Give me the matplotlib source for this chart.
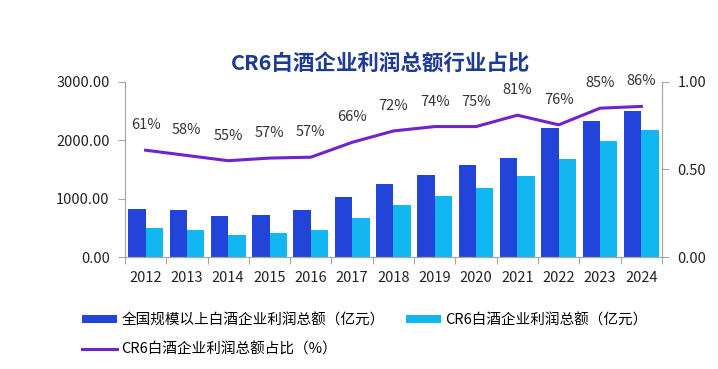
import numpy as np
import matplotlib.pyplot as plt
from matplotlib.ticker import FormatStrFormatter, FixedLocator, NullFormatter

plt.rcParams['font.family'] = ['Noto Sans CJK SC', 'DejaVu Sans']

# data
years = ['2012', '2013', '2014', '2015', '2016', '2017', '2018',
         '2019', '2020', '2021', '2022', '2023', '2024']
total_profit = [818, 804, 699, 727, 797, 1028, 1250, 1404, 1585, 1702, 2202, 2329, 2509]
cr6_profit = [495, 463, 380, 415, 455, 675, 895, 1050, 1190, 1380, 1675, 1980, 2170]
cr6_share = [0.61, 0.58, 0.55, 0.565, 0.57, 0.655, 0.72, 0.745, 0.745, 0.81, 0.755, 0.85, 0.86]
share_labels = ['61%', '58%', '55%', '57%', '57%', '66%', '72%',
                '74%', '75%', '81%', '76%', '85%', '86%']

c_dark = '#2344d8'
c_light = '#12b6f0'
c_line = '#7022cc'
c_spine = '#a6a6a6'

fig = plt.figure(figsize=(7.18, 3.69), dpi=100)
ax = fig.add_axes([0.174, 0.3035, 0.748, 0.4745])
ax2 = ax.twinx()

x = np.arange(len(years))
w = 0.42
b1 = ax.bar(x - w / 2, total_profit, w, color=c_dark, label='全国规模以上白酒企业利润总额（亿元）')
b2 = ax.bar(x + w / 2, cr6_profit, w, color=c_light, label='CR6白酒企业利润总额（亿元）')
ln, = ax2.plot(x, cr6_share, color=c_line, lw=2.2, label='CR6白酒企业利润总额占比（%）')

for xi, yi, s in zip(x, cr6_share, share_labels):
    ax2.annotate(s, (xi, yi), xytext=(0, 25), textcoords='offset pixels',
                 ha='center', va='center', fontsize=10.5, color='#333333')

ax.set_xlim(-0.5, len(years) - 0.5)
ax.set_ylim(0, 3000)
ax2.set_ylim(0, 1.0)
ax.set_yticks([0, 1000, 2000, 3000])
ax2.set_yticks([0, 0.5, 1.0])
ax.yaxis.set_major_formatter(FormatStrFormatter('%.2f'))
ax2.yaxis.set_major_formatter(FormatStrFormatter('%.2f'))

# year labels centred, tick marks at group boundaries
ax.xaxis.set_major_locator(FixedLocator(np.arange(-0.5, len(years), 1.0)))
ax.xaxis.set_major_formatter(NullFormatter())
ax.xaxis.set_minor_locator(FixedLocator(x))
ax.set_xticklabels(years, minor=True)
ax.tick_params(axis='x', which='major', length=5, color=c_spine, direction='out')
ax.tick_params(axis='x', which='minor', length=0, labelsize=10.5, pad=10, labelcolor='#222222')

for a in (ax, ax2):
    a.spines['top'].set_visible(False)
    for s in ('left', 'right', 'bottom'):
        a.spines[s].set_color(c_spine)
    a.tick_params(axis='y', length=5, color=c_spine, labelsize=10.5, labelcolor='#222222', pad=6)

fig.text(0.53, 0.83, 'CR6白酒企业利润总额行业占比', ha='center', va='center',
         fontsize=15.5, fontweight='bold', color='#1d3a94')

# column-major fill: b1/ln in first column, b2 in second
fig.legend(handles=[b1, ln, b2], loc='upper left', bbox_to_anchor=(0.114, 0.152),
           ncol=2, frameon=False, fontsize=10.5, handlelength=2.4, handleheight=0.5,
           handletextpad=0.3, columnspacing=1.45, labelspacing=1.05, borderaxespad=0,
           borderpad=0)

fig.savefig('out.png', dpi=100)
